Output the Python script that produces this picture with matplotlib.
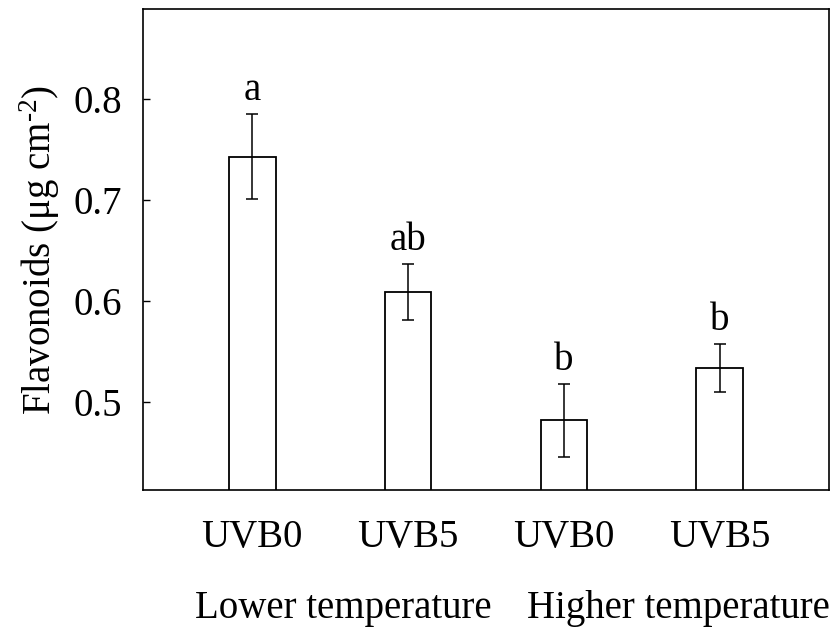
import matplotlib.pyplot as plt
import numpy as np

plt.rcParams['font.family'] = ['Liberation Serif', 'DejaVu Serif']
plt.rcParams['mathtext.fontset'] = 'custom'
plt.rcParams['mathtext.rm'] = 'Liberation Serif'
plt.rcParams['mathtext.it'] = 'Liberation Serif:italic'

# Flavonoides por tratamiento UV-B y temperatura
tratamientos = ['UVB0', 'UVB5', 'UVB0', 'UVB5']
grupos = ['Lower temperature', 'Higher temperature']
media = [0.743, 0.609, 0.482, 0.534]
error = [0.042, 0.028, 0.036, 0.024]
letras = ['a', 'ab', 'b', 'b']

fig = plt.figure(figsize=(8.34, 6.35), dpi=100)
ax = fig.add_axes([0.1715, 0.2283, 0.8225, 0.7575])

x = np.arange(len(media))
ax.bar(x, media, width=0.3, color='white', edgecolor='black', linewidth=1.3)
ax.errorbar(x, media, yerr=error, fmt='none', ecolor='black', elinewidth=1.1,
            capsize=4, capthick=1.1)

# Letras de significancia encima de cada barra
for xi, m, e, letra in zip(x, media, error, letras):
    ax.annotate(letra, (xi, m + e), xytext=(0, 10), textcoords='offset points',
                ha='center', va='baseline', fontsize=28)

ax.set_xlim(-0.7, 3.7)
ax.set_ylim(0.413, 0.889)
ax.set_yticks([0.5, 0.6, 0.7, 0.8])
ax.set_yticklabels(['0.5', '0.6', '0.7', '0.8'])
ax.set_xticks(x)
ax.set_xticklabels(tratamientos)
ax.tick_params(axis='y', direction='in', length=5, width=1, pad=15, labelsize=28)
ax.tick_params(axis='x', length=0, pad=21, labelsize=28)
ax.set_ylabel(r'Flavonoids (μg cm$^{\text{-2}}$)', fontsize=28, labelpad=8)

for s in ax.spines.values():
    s.set_linewidth(1.2)

fig.text(343 / 834, 0.027, grupos[0], ha='center', va='baseline', fontsize=28)
fig.text(678 / 834, 0.027, grupos[1], ha='center', va='baseline', fontsize=28)

fig.savefig('out.png', dpi=100)
